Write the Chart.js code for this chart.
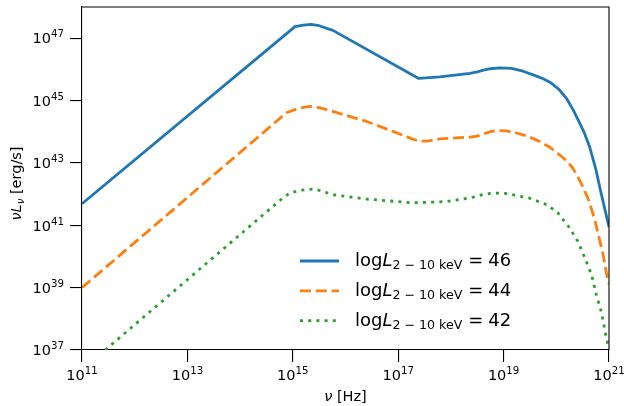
<!DOCTYPE html>
<html><head><meta charset="utf-8">
<script src="https://cdn.jsdelivr.net/npm/chart.js@4.4.0/dist/chart.umd.min.js"></script>
<style>html,body{margin:0;padding:0;background:#fff}#wrap{width:624px;height:406px;position:relative}</style>
</head><body><div id="wrap"><canvas id="c"></canvas></div>
<script>
// ---- data (log10 values) ----
const xTickExponents = [11, 13, 15, 17, 19, 21];
const yTickExponents = [37, 39, 41, 43, 45, 47];
const seriesLogLx = ['46', '44', '42'];
const seriesColors = ['#1f77b4', '#ff7f0e', '#2ca02c'];

const logNu46 = [11, 14.9, 15.04, 15.2, 15.35, 15.5, 15.76, 17.39, 17.79, 18.36, 18.5, 18.6, 18.75, 18.93, 19.15, 19.37, 19.6, 19.75, 19.88, 20.05, 20.2, 20.32, 20.44, 20.54, 20.63, 20.75, 20.83, 20.9, 21];
const logL46  = [41.69, 47.17, 47.37, 47.42, 47.44, 47.40, 47.25, 45.71, 45.76, 45.87, 45.92, 45.97, 46.02, 46.05, 46.03, 45.94, 45.80, 45.70, 45.59, 45.36, 45.05, 44.70, 44.29, 43.93, 43.53, 42.80, 42.18, 41.67, 40.95];

const logNu44 = [11, 14.88, 15.04, 15.2, 15.32, 15.5, 15.76, 16.4, 16.9, 17.25, 17.39, 17.55, 17.79, 18.36, 18.5, 18.6, 18.75, 18.86, 19.05, 19.24, 19.45, 19.68, 19.88, 20.06, 20.2, 20.31, 20.4, 20.5, 20.62, 20.73, 20.88, 20.98, 21];
const logL44  = [39.0, 44.61, 44.71, 44.78, 44.81, 44.77, 44.65, 44.33, 44.01, 43.78, 43.70, 43.70, 43.77, 43.83, 43.86, 43.92, 44.00, 44.04, 44.03, 43.96, 43.86, 43.69, 43.50, 43.26, 43.06, 42.84, 42.58, 42.25, 41.78, 41.18, 40.12, 39.22, 39.12];

const logNu42 = [11.44, 14.8, 14.94, 15.14, 15.3, 15.42, 15.58, 15.76, 16.4, 17.28, 17.92, 18.22, 18.42, 18.6, 18.75, 18.89, 19.03, 19.17, 19.49, 19.82, 20.03, 20.25, 20.41, 20.54, 20.67, 20.76, 20.86, 20.92, 20.98, 21];
const logL42  = [37.0, 41.86, 42.03, 42.12, 42.15, 42.16, 42.08, 41.98, 41.84, 41.72, 41.76, 41.84, 41.90, 41.98, 42.02, 42.03, 42.02, 41.98, 41.87, 41.66, 41.40, 40.92, 40.48, 39.96, 39.41, 38.77, 38.19, 37.64, 37.16, 37.03];

// ---- helpers ----
const pts = (lx, ly) => lx.map((v, i) => ({x: Math.pow(10, v), y: Math.pow(10, ly[i])}));
const FONT = "'DejaVu Sans'";

const dashes = [[], [11, 4.8], [3, 5.2]];
const seriesData = [pts(logNu46, logL46), pts(logNu44, logL44), pts(logNu42, logL42)];

const datasets = seriesData.map((d, i) => ({
  label: 'log L = ' + seriesLogLx[i],
  data: d,
  borderColor: seriesColors[i],
  borderWidth: 2.8,
  borderDash: dashes[i],
  borderCapStyle: 'butt',
  borderJoinStyle: 'round',
  pointRadius: 0,
  fill: false,
  tension: 0
}));

function powLabel(ctx, exp, x, base, align) {
  const fb = '14.5px ' + FONT, fs = '10.2px ' + FONT;
  ctx.font = fb; const wb = ctx.measureText('10').width;
  ctx.font = fs; const ws = ctx.measureText(String(exp)).width;
  const w = wb + ws;
  let x0 = align === 'right' ? x - w : x - w / 2;
  ctx.font = fb; ctx.fillText('10', x0, base);
  ctx.font = fs; ctx.fillText(String(exp), x0 + wb, base - 6);
}

const decor = {
  id: 'decor',
  afterDatasetsDraw(chart) {
    const ctx = chart.ctx, a = chart.chartArea;
    ctx.save();
    ctx.strokeStyle = '#000';
    ctx.lineWidth = 1.1;
    ctx.beginPath();
    ctx.moveTo(a.left, a.top); ctx.lineTo(a.right, a.top); ctx.lineTo(a.right, a.bottom);
    ctx.stroke();
    ctx.restore();
  },
  afterDraw(chart) {
    const ctx = chart.ctx, a = chart.chartArea;
    const xs = chart.scales.x, ys = chart.scales.y;
    ctx.save();
    ctx.fillStyle = '#000';
    ctx.textBaseline = 'alphabetic';
    ctx.textAlign = 'left';
    // tick labels
    xTickExponents.forEach(e => powLabel(ctx, e, xs.getPixelForValue(Math.pow(10, e)), 380, 'center'));
    yTickExponents.forEach(e => powLabel(ctx, e, 64, ys.getPixelForValue(Math.pow(10, e)) + 5.3, 'right'));
    // x title
    {
      const f1 = 'italic 14.5px ' + FONT, f2 = '14.5px ' + FONT;
      ctx.font = f1; const w1 = ctx.measureText('ν').width;
      ctx.font = f2; const w2 = ctx.measureText(' [Hz]').width;
      const cx = (a.left + a.right) / 2; let x = cx - (w1 + w2) / 2;
      ctx.font = f1; ctx.fillText('ν', x, 401); x += w1;
      ctx.font = f2; ctx.fillText(' [Hz]', x, 401);
    }
    // y title
    {
      ctx.save();
      ctx.translate(20.5, (a.top + a.bottom) / 2 + 5);
      ctx.rotate(-Math.PI / 2);
      const fi = 'italic 14.5px ' + FONT, fs = 'italic 10.2px ' + FONT, fr = '14.5px ' + FONT;
      ctx.font = fi; const w1 = ctx.measureText('νL').width;
      ctx.font = fs; const w2 = ctx.measureText('ν').width;
      ctx.font = fr; const w3 = ctx.measureText(' [erg/s]').width;
      let x = -(w1 + w2 + w3) / 2;
      ctx.font = fi; ctx.fillText('νL', x, 0); x += w1;
      ctx.font = fs; ctx.fillText('ν', x, 3); x += w2;
      ctx.font = fr; ctx.fillText(' [erg/s]', x, 0);
      ctx.restore();
    }
    // legend
    const fm = '18px ' + FONT, fit = 'italic 18px ' + FONT, fsub = '12.6px ' + FONT;
    chart.data.datasets.forEach((ds, i) => {
      const y = 261 + i * 29.85;
      ctx.save();
      ctx.strokeStyle = ds.borderColor;
      ctx.lineWidth = ds.borderWidth;
      ctx.lineCap = 'butt';
      ctx.setLineDash(ds.borderDash);
      ctx.beginPath(); ctx.moveTo(300, y); ctx.lineTo(339, y); ctx.stroke();
      ctx.restore();
      const base = y + 5;
      let x = 355;
      ctx.font = fm; ctx.fillText('log', x, base); x += ctx.measureText('log').width;
      ctx.font = fit; ctx.fillText('L', x, base); x += ctx.measureText('L').width;
      ctx.font = fsub; ctx.fillText('2 − 10 keV', x, base + 3); x += ctx.measureText('2 − 10 keV').width + 6;
      ctx.font = fm; ctx.fillText('=', x, base); x += ctx.measureText('=').width + 5;
      ctx.fillText(seriesLogLx[i], x, base);
    });
    ctx.restore();
  }
};

const axisCommon = {
  type: 'logarithmic',
  grid: {display: true, drawOnChartArea: false, drawTicks: true, tickLength: 12, color: '#000', lineWidth: 1.1},
  border: {display: true, color: '#000', width: 1.1},
  title: {display: false}
};
const noPad = s => { s.paddingTop = 0; s.paddingBottom = 0; s.paddingLeft = 0; s.paddingRight = 0; };

new Chart(document.getElementById('c'), {
  type: 'line',
  data: {datasets},
  options: {
    responsive: true,
    maintainAspectRatio: false,
    animation: false,
    layout: {padding: {left: 0, right: 15, top: 7, bottom: 0}},
    plugins: {legend: {display: false}, tooltip: {enabled: false}},
    scales: {
      x: Object.assign({}, axisCommon, {
        min: 1e11, max: 1e21,
        afterBuildTicks: s => { s.ticks = xTickExponents.map(e => ({value: Math.pow(10, e)})); },
        afterFit: s => { s.height = 56; noPad(s); },
        ticks: {display: false, autoSkip: false, maxRotation: 0}
      }),
      y: Object.assign({}, axisCommon, {
        min: 1e37, max: 1e48,
        afterBuildTicks: s => { s.ticks = yTickExponents.map(e => ({value: Math.pow(10, e)})); },
        afterFit: s => { s.width = 82; noPad(s); },
        ticks: {display: false, autoSkip: false}
      })
    }
  },
  plugins: [decor]
});
</script></body></html>
